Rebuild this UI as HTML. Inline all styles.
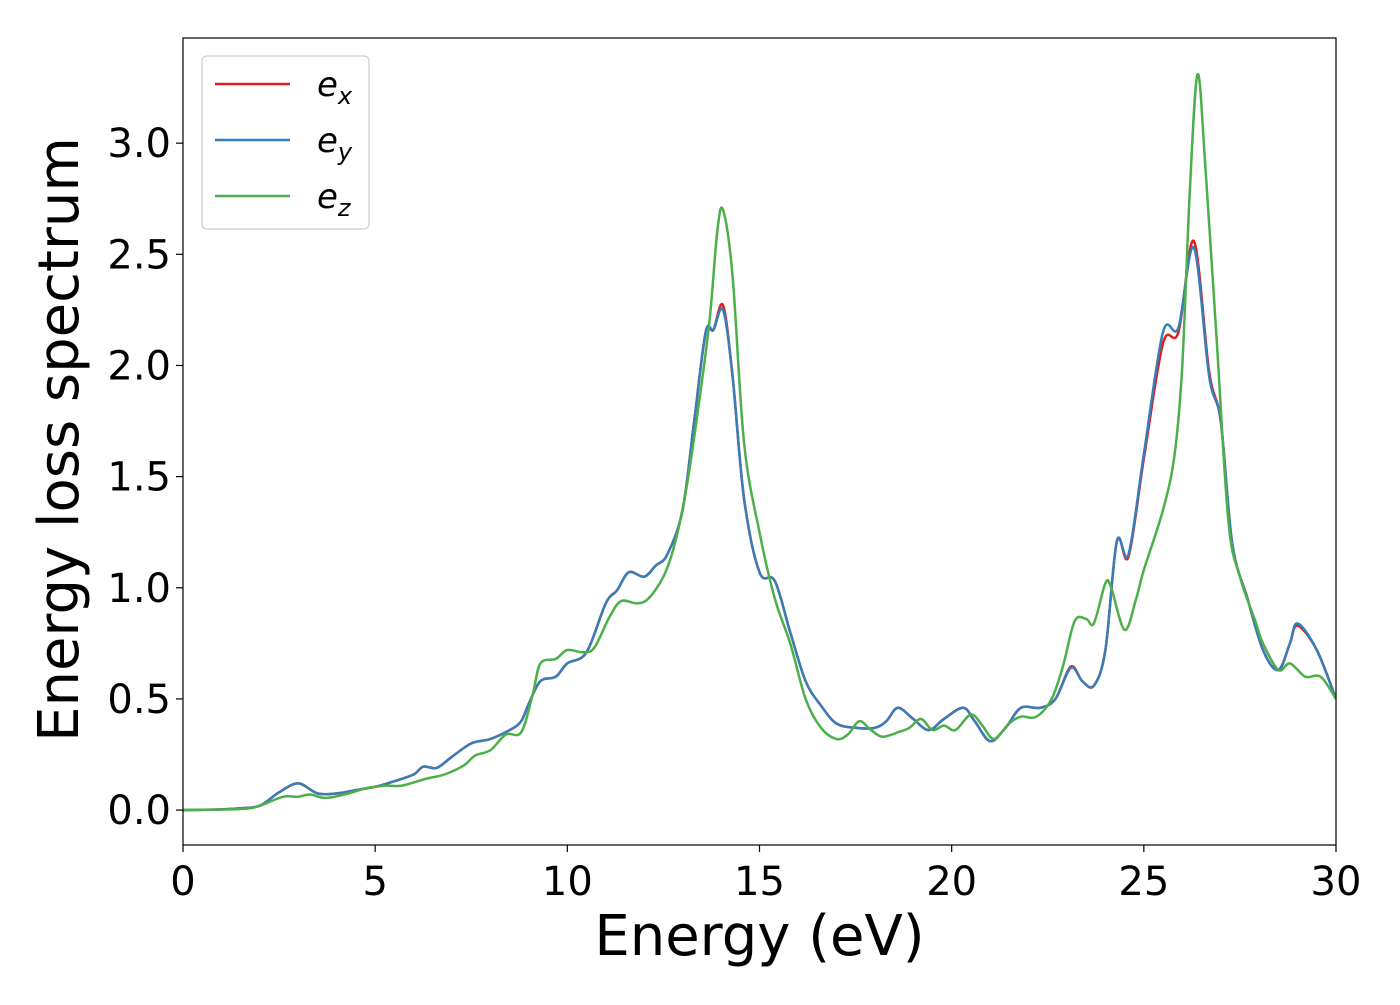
<!DOCTYPE html>
<html><head><meta charset="utf-8"><style>
body{margin:0;background:#fff;}
svg text{font-family:"DejaVu Sans","Liberation Sans",sans-serif;}
</style></head><body>
<svg id="chart" width="1400" height="1000" viewBox="0 0 1400 1000" xmlns="http://www.w3.org/2000/svg">
<rect width="1400" height="1000" fill="#fff"/>
<g id="plot"></g>
</svg>
<script>
const xTicks=[0,5,10,15,20,25,30];
const yTicks=[0.0,0.5,1.0,1.5,2.0,2.5,3.0];
const yTickLabels=["0.0","0.5","1.0","1.5","2.0","2.5","3.0"];
const eyE=[0,1,1.5,2,2.5,3,3.5,4,4.5,5,5.5,6,6.25,6.6,7,7.5,8,8.5,8.8,9,9.3,9.7,10,10.5,11,11.3,11.6,12,12.3,12.6,13,13.3,13.6,13.8,14.05,14.3,14.6,15,15.4,15.8,16.2,16.6,17,17.5,18,18.3,18.6,19,19.4,19.8,20.3,20.6,21,21.4,21.8,22.3,22.7,23.1,23.4,23.7,24,24.3,24.6,25,25.5,25.9,26.3,26.7,27,27.3,27.7,28.1,28.5,28.8,29,29.5,30];
const eyV=[0,0.003,0.008,0.02,0.08,0.12,0.075,0.075,0.09,0.105,0.13,0.16,0.195,0.19,0.24,0.3,0.32,0.36,0.4,0.48,0.58,0.6,0.66,0.71,0.93,0.99,1.07,1.05,1.1,1.15,1.35,1.75,2.15,2.16,2.25,1.95,1.4,1.07,1.03,0.8,0.58,0.47,0.39,0.37,0.37,0.4,0.46,0.41,0.36,0.41,0.46,0.4,0.31,0.37,0.46,0.46,0.5,0.64,0.58,0.56,0.72,1.21,1.15,1.6,2.15,2.17,2.53,1.95,1.75,1.2,0.95,0.72,0.63,0.75,0.84,0.72,0.5];
const exE=eyE;
const exV=[0,0.003,0.008,0.02,0.08,0.12,0.075,0.075,0.09,0.105,0.13,0.16,0.195,0.19,0.24,0.3,0.32,0.36,0.4,0.48,0.58,0.6,0.66,0.71,0.93,0.99,1.07,1.05,1.1,1.15,1.35,1.75,2.15,2.16,2.27,1.95,1.4,1.07,1.03,0.8,0.58,0.47,0.39,0.37,0.37,0.4,0.46,0.41,0.36,0.41,0.46,0.4,0.31,0.37,0.46,0.46,0.5,0.645,0.58,0.56,0.72,1.21,1.14,1.58,2.1,2.15,2.56,1.97,1.75,1.2,0.95,0.72,0.63,0.75,0.83,0.72,0.5];
const ezE=[0,1.5,2,2.6,3,3.3,3.7,4.2,4.8,5.3,5.7,6.3,6.8,7.3,7.6,8,8.4,8.8,9.1,9.3,9.7,10,10.4,10.7,11.1,11.4,11.8,12.1,12.5,12.8,13.1,13.4,13.7,13.9,14.05,14.3,14.6,15,15.4,15.8,16.2,16.6,17,17.3,17.6,17.9,18.2,18.6,18.9,19.2,19.5,19.8,20.1,20.5,20.8,21.1,21.5,21.8,22.2,22.6,22.9,23.2,23.5,23.7,24,24.15,24.5,24.8,25,25.5,25.8,26,26.2,26.4,26.6,26.9,27.2,27.5,27.9,28.1,28.5,28.8,29.2,29.6,30];
const ezV=[0,0.005,0.02,0.06,0.06,0.07,0.055,0.07,0.1,0.11,0.11,0.14,0.16,0.2,0.245,0.27,0.34,0.35,0.52,0.66,0.68,0.72,0.71,0.73,0.87,0.94,0.93,0.95,1.05,1.2,1.45,1.8,2.2,2.6,2.7,2.4,1.65,1.25,0.95,0.75,0.5,0.37,0.32,0.34,0.4,0.36,0.33,0.35,0.37,0.41,0.36,0.38,0.36,0.43,0.38,0.32,0.39,0.42,0.42,0.5,0.65,0.85,0.86,0.84,1.02,1.0,0.81,0.95,1.08,1.35,1.6,2.0,2.8,3.31,2.9,2.1,1.3,1.05,0.85,0.75,0.63,0.66,0.6,0.6,0.5];

const L=183,R=1336,T=38,B=845;
const xmin=0,xmax=30,ymin=-0.157,ymax=3.473;
const sx=v=>L+(v-xmin)/(xmax-xmin)*(R-L);
const sy=v=>B-(v-ymin)/(ymax-ymin)*(B-T);
const NS="http://www.w3.org/2000/svg";
const g=document.getElementById('plot');
function mk(tag,attrs,parent){const e=document.createElementNS(NS,tag);for(const k in attrs)e.setAttribute(k,attrs[k]);(parent||g).appendChild(e);return e;}
function pathFor(xs,ys){
  const p=xs.map((x,i)=>[sx(x),sy(ys[i])]);
  let d=`M${p[0][0].toFixed(1)},${p[0][1].toFixed(1)}`;
  for(let i=0;i<p.length-1;i++){
    const p0=p[Math.max(0,i-1)],p1=p[i],p2=p[i+1],p3=p[Math.min(p.length-1,i+2)];
    const c1=[p1[0]+(p2[0]-p0[0])/6,p1[1]+(p2[1]-p0[1])/6];
    const c2=[p2[0]-(p3[0]-p1[0])/6,p2[1]-(p3[1]-p1[1])/6];
    d+=`C${c1[0].toFixed(1)},${c1[1].toFixed(1)} ${c2[0].toFixed(1)},${c2[1].toFixed(1)} ${p2[0].toFixed(1)},${p2[1].toFixed(1)}`;
  }
  return d;
}
const defs=mk('defs',{});
const cp=mk('clipPath',{id:'clip'},defs);mk('rect',{x:L,y:T,width:R-L,height:B-T},cp);
const series=[[exE,exV,'#e41a1c','series-ex'],[eyE,eyV,'#377eb8','series-ey'],[ezE,ezV,'#4daf4a','series-ez']];
const lg=mk('g',{'clip-path':'url(#clip)'});


series.forEach(s=>{
  const e=mk('path',{d:pathFor(s[0],s[1]),fill:'none',stroke:s[2],'stroke-width':2.5,'stroke-linejoin':'round'},lg);
  
  
});
const frame=mk('rect',{x:L,y:T,width:R-L,height:B-T,fill:'none',stroke:'#000','stroke-width':1.2});


xTicks.forEach(v=>{
  mk('line',{x1:sx(v),x2:sx(v),y1:B,y2:B+7,stroke:'#000','stroke-width':1.2});
  const t=mk('text',{x:sx(v),y:B+50,'font-size':40,'text-anchor':'middle'});t.textContent=v;
  
  
});
yTicks.forEach((v,i)=>{
  mk('line',{x1:L-7,x2:L,y1:sy(v),y2:sy(v),stroke:'#000','stroke-width':1.2});
  const t=mk('text',{x:L-12,y:sy(v)+14,'font-size':40,'text-anchor':'end'});t.textContent=yTickLabels[i];
  
  
});
const xt=mk('text',{x:(L+R)/2,y:955,'font-size':56,'text-anchor':'middle'});xt.textContent='Energy (eV)';


const yt=mk('text',{x:0,y:0,'font-size':56,'text-anchor':'middle',transform:`translate(78,${(T+B)/2-2}) rotate(-90)`});yt.textContent='Energy loss spectrum';


// legend
const leg=mk('g',{});


mk('rect',{x:202,y:56,width:167,height:173,rx:5,fill:'#fff',stroke:'#ccc','stroke-width':1.2,'fill-opacity':0.8},leg);
const subs=['x','y','z'];
series.forEach((s,i)=>{
  const y=84+i*56;
  const en=mk('g',{},leg);
  
  
  mk('line',{x1:215,x2:290,y1:y,y2:y,stroke:s[2],'stroke-width':2.5},en);
  const t=mk('text',{x:317,y:y+12,'font-size':34,'font-style':'italic'},en);
  t.textContent='e';
  const sb=mk('tspan',{'font-size':24,dy:8},t);sb.textContent=subs[i];
});
</script>
</body></html>
